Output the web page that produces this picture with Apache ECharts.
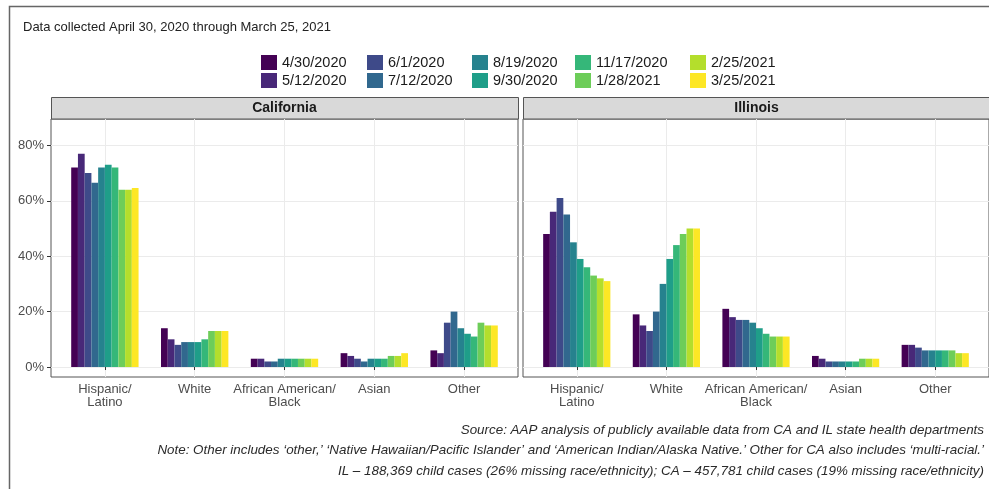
<!DOCTYPE html>
<html>
<head>
<meta charset="utf-8">
<script src="https://cdn.jsdelivr.net/npm/echarts@6/dist/echarts.min.js"></script>
<style>
  html, body { margin: 0; padding: 0; background: #fff; }
  #chart { width: 989px; height: 489px; }
</style>
</head>
<body>
<div id="chart"></div>
<script>
const states = ['California', 'Illinois'];
const groups = ['Hispanic/\nLatino', 'White', 'African American/\nBlack', 'Asian', 'Other'];
const dates = ['4/30/2020', '5/12/2020', '6/1/2020', '7/12/2020', '8/19/2020',
               '9/30/2020', '11/17/2020', '1/28/2021', '2/25/2021', '3/25/2021'];
const colors = ['#440154', '#482878', '#3e4a89', '#31688e', '#26828e',
                '#1f9e89', '#35b779', '#6dcd59', '#b4de2c', '#fde725'];

// share of child cases (%) per group, one value per collection date
const california = [
    [72, 77, 70, 66.5, 72, 73, 72, 64, 64, 64.6],
    [14, 10, 8, 9, 9, 9, 10, 13, 13, 13],
    [3, 3, 2, 2, 3, 3, 3, 3, 3, 3],
    [5, 4, 3, 2, 3, 3, 3, 4, 4, 5],
    [6, 5, 16, 20, 14, 12, 11, 16, 15, 15]
];
const illinois = [
    [48, 56, 61, 55, 45, 39, 36, 33, 32, 31],
    [19, 15, 13, 20, 30, 39, 44, 48, 50, 50],
    [21, 18, 17, 17, 16, 14, 12, 11, 11, 11],
    [4, 3, 2, 2, 2, 2, 2, 3, 3, 3],
    [8, 8, 7, 6, 6, 6, 6, 6, 5, 5]
];
const yTicks = [0, 20, 40, 60, 80];

const font = '"Liberation Sans", Arial, sans-serif';
const panelLeft = [51, 523];
const panelW = 467;
const panelTop = 119;
const panelH = 258;

var myChart = echarts.init(document.getElementById('chart'));

// bars: one series per date and state
const series = [];
[california, illinois].forEach((vals, s) => {
    dates.forEach((d, k) => {
        series.push({
            type: 'bar',
            name: d,
            xAxisIndex: s,
            yAxisIndex: s,
            barGap: '0%',
            barCategoryGap: '25%',
            itemStyle: { color: colors[k] },
            data: groups.map((g, i) => [i + 1, vals[i][k]])
        });
    });
});

// legend is filled by column (two dates per column), one legend per column
const legendColLeft = [261, 367, 472, 575, 690];

const graphic = [
    {
        type: 'rect', silent: true,
        shape: { x: 9.5, y: 6.5, width: 1000, height: 500 },
        style: { fill: null, stroke: '#666', lineWidth: 1.5 }
    },
    {
        type: 'text', silent: true,
        style: {
            x: 984, y: 420, align: 'right', verticalAlign: 'top',
            text: 'Source: AAP analysis of publicly available data from CA and IL state health departments\n' +
                  'Note: Other includes \u2018other,\u2019 \u2018Native Hawaiian/Pacific Islander\u2019 and \u2018American Indian/Alaska Native.\u2019 Other for CA also includes \u2018multi-racial.\u2019\n' +
                  'IL \u2013 188,369 child cases (26% missing race/ethnicity); CA \u2013 457,781 child cases (19% missing race/ethnicity)',
            font: 'italic 13.4px ' + font,
            lineHeight: 20.5,
            fill: '#2a2a2a'
        }
    }
];
states.forEach((name, s) => {
    graphic.push({
        type: 'rect', silent: true,
        shape: { x: panelLeft[s] + 0.5, y: 97.5, width: panelW, height: 21.5 },
        style: { fill: '#d9d9d9', stroke: '#555', lineWidth: 1 }
    });
    graphic.push({
        type: 'text', silent: true,
        style: {
            x: panelLeft[s] + panelW / 2, y: 108.5, align: 'center', verticalAlign: 'middle',
            text: name, font: 'bold 14px ' + font, fill: '#1a1a1a'
        }
    });
});

var option = {
    animation: false,
    backgroundColor: '#fff',
    title: {
        text: 'Data collected April 30, 2020 through March 25, 2021',
        left: 23, top: 21, padding: 0,
        textStyle: { fontFamily: font, fontSize: 13, fontWeight: 'normal', color: '#222' }
    },
    legend: legendColLeft.map((x, c) => ({
        orient: 'vertical',
        top: 55,
        left: x,
        padding: 0,
        itemWidth: 16,
        itemHeight: 15,
        itemGap: 3,
        icon: 'rect',
        selectedMode: false,
        data: [dates[2 * c], dates[2 * c + 1]],
        textStyle: { fontFamily: font, fontSize: 14.5, color: '#1a1a1a' }
    })),
    grid: states.map((st, s) => ({
        left: panelLeft[s], top: panelTop, width: panelW, height: panelH,
        show: true, backgroundColor: '#fff', borderColor: '#555', borderWidth: 1
    })),
    xAxis: states.map((st, s) => ({
        type: 'value',
        gridIndex: s,
        min: 0.4,
        max: 5.6,
        minInterval: 1,
        maxInterval: 1,
        axisLine: { show: false },
        axisTick: { show: true, length: 3, lineStyle: { color: '#333' }, customValues: [1, 2, 3, 4, 5] },
        axisLabel: {
            customValues: [1, 2, 3, 4, 5],
            formatter: v => groups[Math.round(v) - 1] || '',
            color: '#4d4d4d', fontFamily: font, fontSize: 13, lineHeight: 13, margin: 6
        },
        splitLine: { show: true, lineStyle: { color: '#ebebeb', width: 1 } }
    })),
    yAxis: states.map((st, s) => ({
        type: 'value',
        gridIndex: s,
        min: -3.6,
        max: 89.5,
        minInterval: 20,
        maxInterval: 20,
        axisLine: { show: false },
        axisTick: { show: s === 0, length: 4, lineStyle: { color: '#333' }, customValues: yTicks },
        axisLabel: {
            show: s === 0,
            customValues: yTicks,
            formatter: v => v + '%',
            color: '#4d4d4d', fontFamily: font, fontSize: 13, margin: 7
        },
        splitLine: { show: true, lineStyle: { color: '#ebebeb', width: 1 } }
    })),
    graphic: graphic,
    series: series
};

option && myChart.setOption(option);
</script>
</body>
</html>
